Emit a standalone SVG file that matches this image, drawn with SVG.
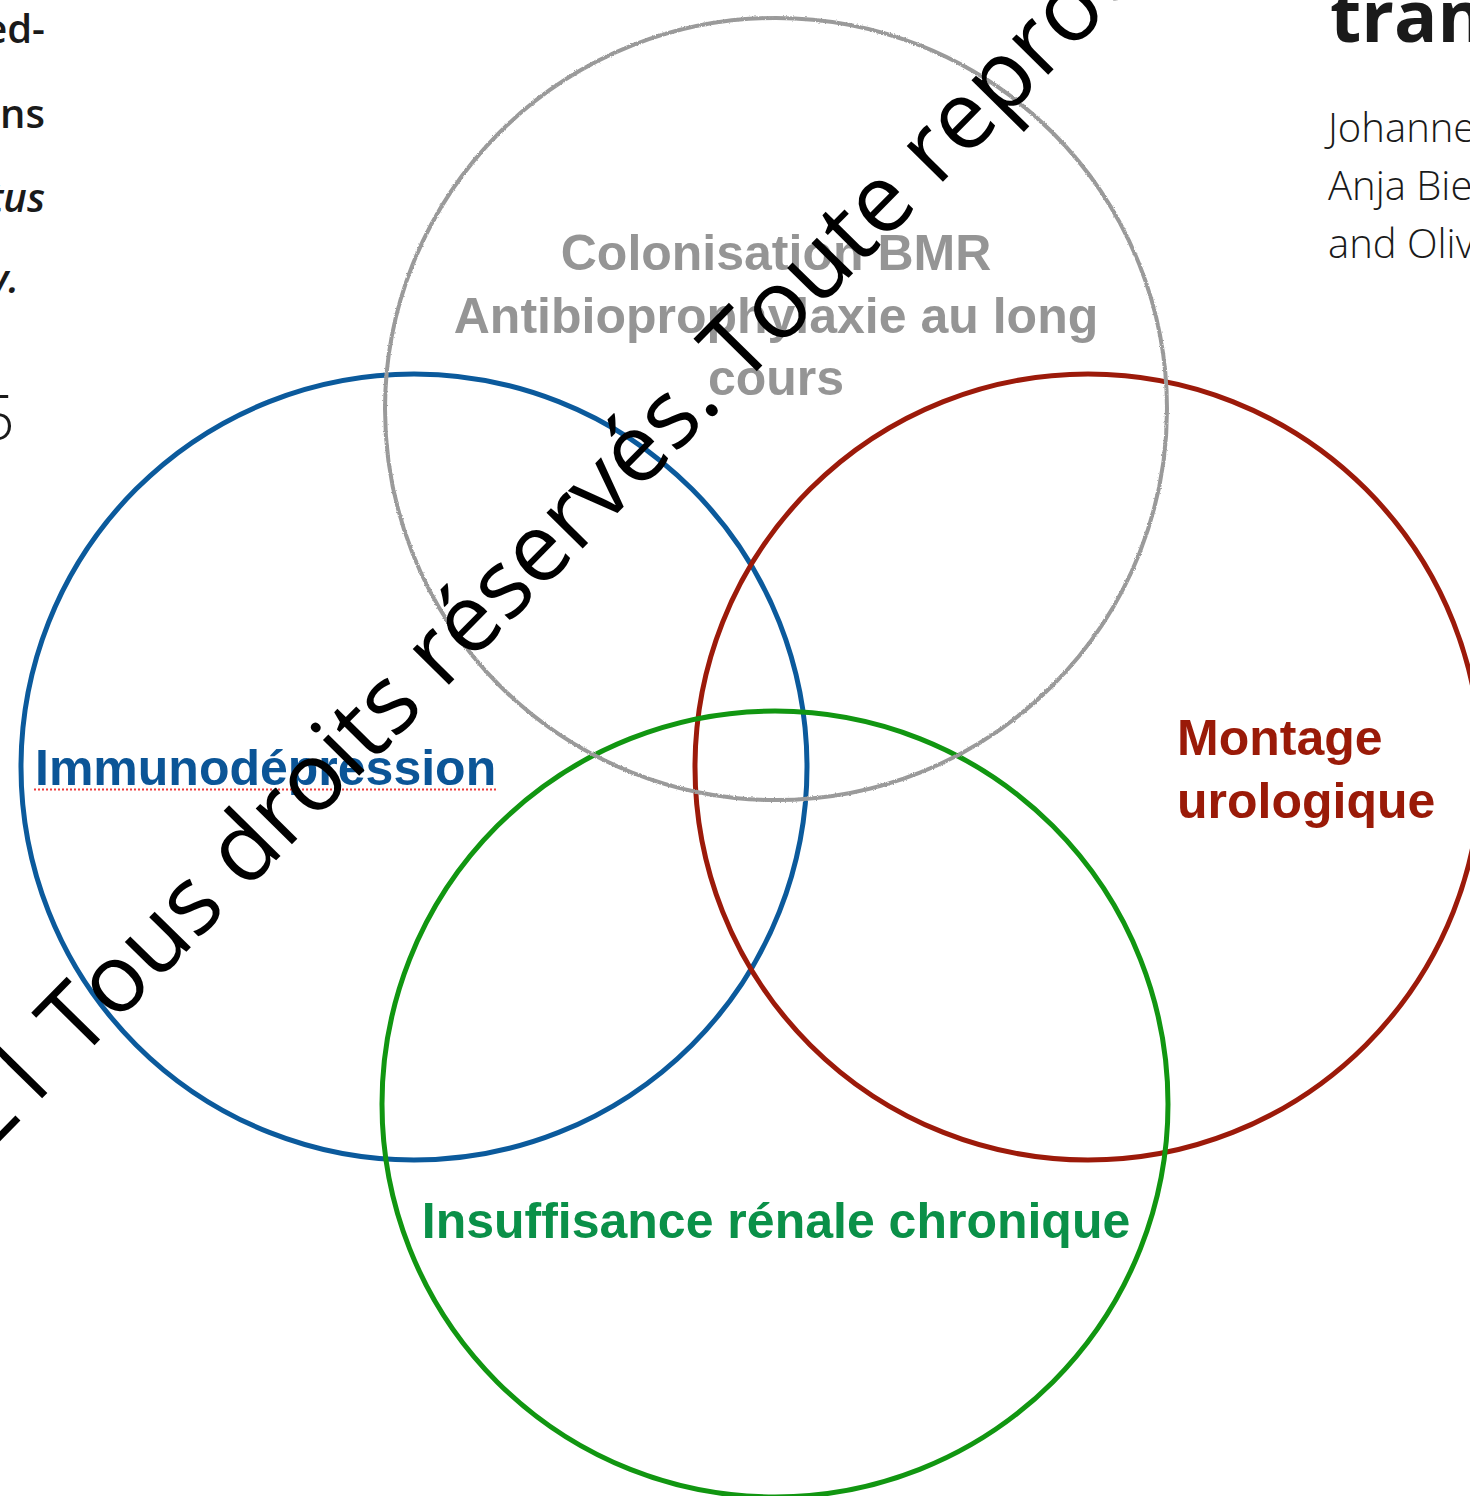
<svg xmlns="http://www.w3.org/2000/svg" width="1470" height="1496" viewBox="0 0 1470 1496">
  <defs>
    <style>
      .lbl { font-family: "Liberation Sans", Arial, sans-serif; font-weight: bold; font-size: 50px; }
      .ring { fill: none; stroke-width: 5; }
      .doc { font-family: "Open Sans", "Noto Sans", sans-serif; fill: #1a1a1a; }
      .wm { font-family: "Open Sans", "Noto Sans", sans-serif; font-size: 95px; fill: #000; }
    </style>
    <filter id="pencil" x="-5%" y="-5%" width="110%" height="110%">
      <feTurbulence type="fractalNoise" baseFrequency="0.9" numOctaves="2" seed="3" result="n"/>
      <feDisplacementMap in="SourceGraphic" in2="n" scale="2.5" xChannelSelector="R" yChannelSelector="G"/>
    </filter>
  </defs>
  <rect width="1470" height="1496" fill="#ffffff"/>

  <!-- background document fragments -->
  <g id="doc-fragments">
    <text class="doc" x="45" y="43" font-size="40" font-weight="600" text-anchor="end">ed-</text>
    <text class="doc" x="45" y="128" font-size="40" font-weight="600" text-anchor="end">ns</text>
    <text class="doc" x="45" y="212" font-size="40" font-weight="600" text-anchor="end" font-style="italic">tus</text>
    <text class="doc" x="19" y="293" font-size="40" font-weight="600" text-anchor="end" font-style="italic">y.</text>
    <text class="doc" x="15" y="440" font-size="62" text-anchor="end" font-weight="300" fill="#555">5</text>
    <text class="doc" x="1330" y="42" font-size="72" font-weight="bold">tran</text>
    <text class="doc" x="1328" y="142" font-size="40" font-weight="300">Johanne</text>
    <text class="doc" x="1328" y="200" font-size="40" font-weight="300">Anja Bie</text>
    <text class="doc" x="1328" y="258" font-size="40" font-weight="300">and Oliv</text>
  </g>

  <g id="node-immunodepression">
    <circle class="ring" cx="414" cy="767" r="393" stroke="#0b5a9c"/>
    <text class="lbl" x="35" y="785" fill="#0b5597">Immunodépression</text>
    <line x1="34" y1="789.5" x2="497" y2="789.5" stroke="#ee3b3b" stroke-width="2" stroke-dasharray="2,2"/>
  </g>

  <g id="node-montage-urologique">
    <circle class="ring" cx="1088" cy="767" r="393" stroke="#9c1a0a"/>
    <text class="lbl" x="1177" y="755" fill="#9a1a08">Montage</text>
    <text class="lbl" x="1177" y="818" fill="#9a1a08">urologique</text>
  </g>

  <g id="node-insuffisance-renale">
    <circle class="ring" cx="775" cy="1104" r="393" stroke="#119611"/>
    <text class="lbl" x="776" y="1238" fill="#0a9048" text-anchor="middle">Insuffisance rénale chronique</text>
  </g>

  <g id="node-colonisation-bmr">
    <circle cx="776" cy="409" r="391" fill="none" stroke="#9a9a9a" stroke-width="4" filter="url(#pencil)"/>
    <text class="lbl" x="776" y="270" fill="#959595" text-anchor="middle">Colonisation BMR</text>
    <text class="lbl" x="776" y="333" fill="#959595" text-anchor="middle">Antibioprophylaxie au long</text>
    <text class="lbl" x="776" y="395" fill="#959595" text-anchor="middle">cours</text>
  </g>

  <!-- watermark -->
  <g id="watermark" transform="translate(79,1061) rotate(-45.5)">
    <text class="wm" x="-24" y="0" text-anchor="end">© 2021</text>
    <text class="wm" x="0" y="0">Tous droits réservés. Toute reproduction</text>
  </g>
</svg>
